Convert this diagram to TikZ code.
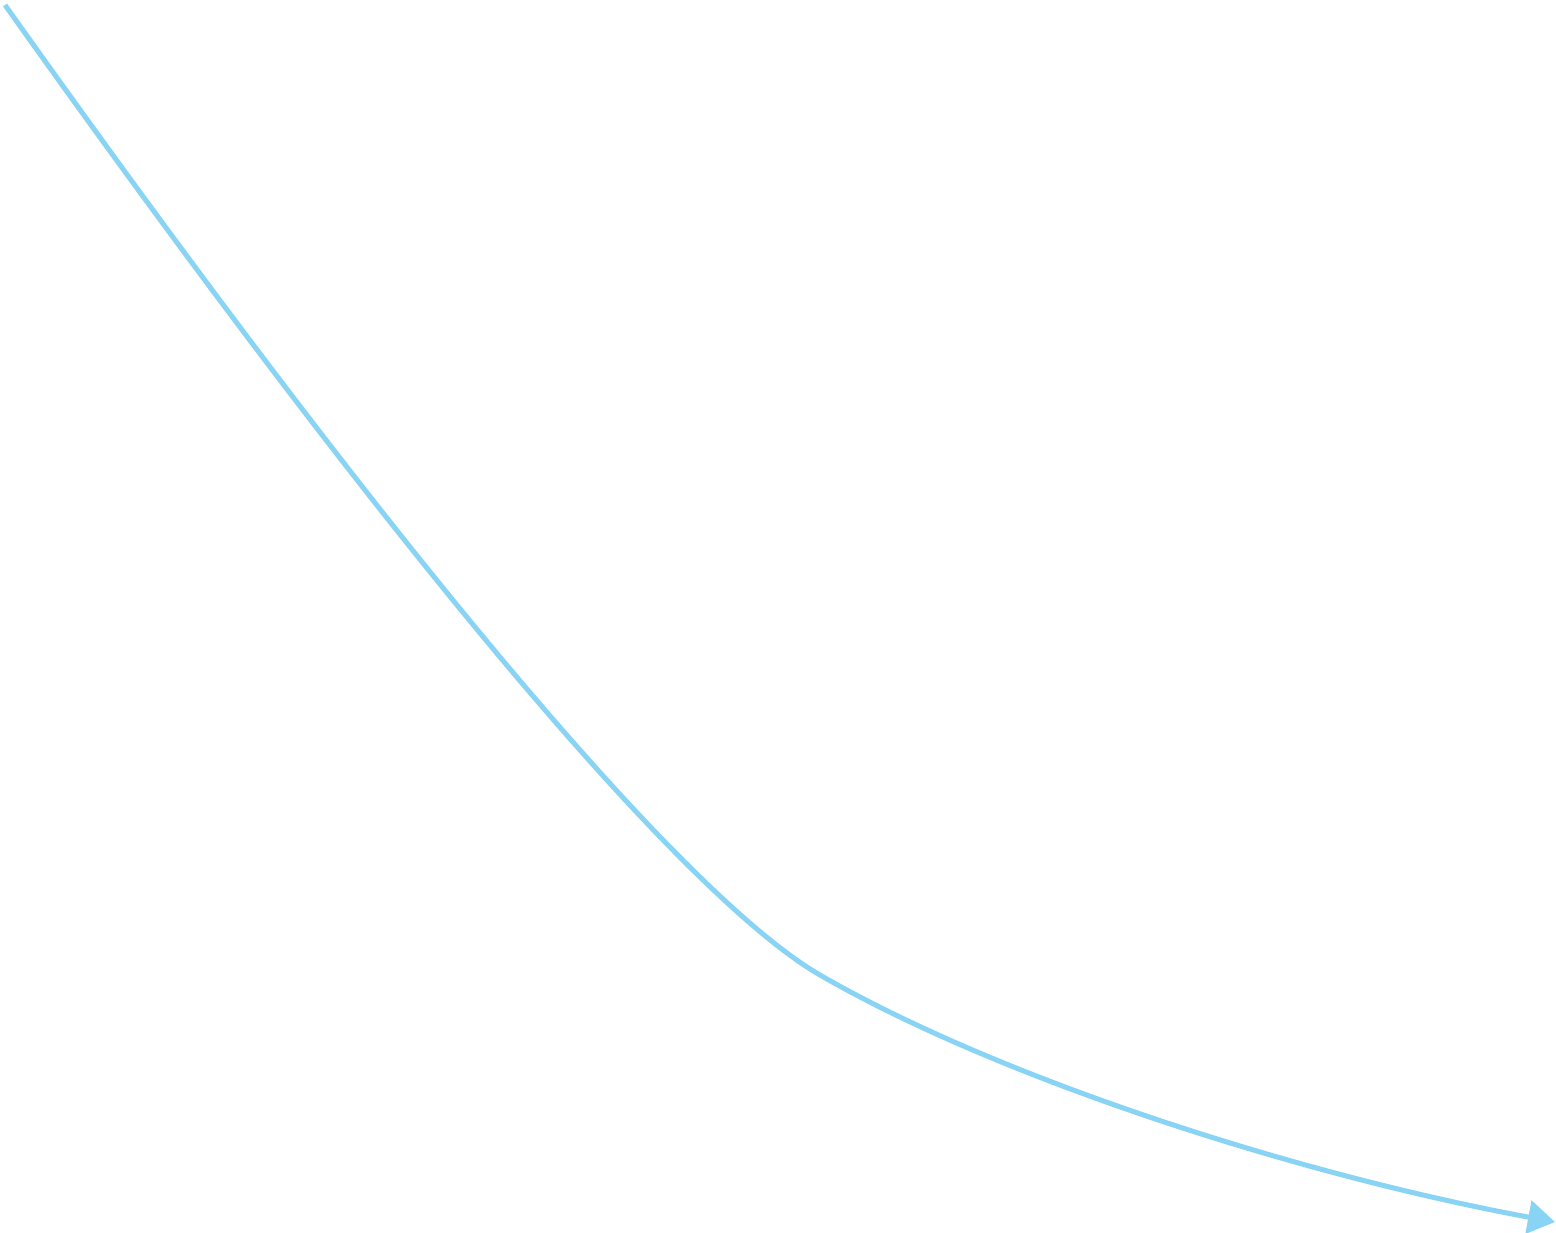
\documentclass[tikz,border=0pt]{standalone}
\usepackage{xcolor}
\usepackage{tikz}
\usetikzlibrary{arrows.meta}

\definecolor{skyline}{RGB}{137,212,244}

\begin{document}
\begin{tikzpicture}[
            x=0.01cm,
            y=-0.01cm,
            flow/.style={
                    draw=skyline,
                    line width=0.05cm,
                    -{Triangle[length=0.27cm,width=0.33cm]}
                }
        ]


        \useasboundingbox (0,0) rectangle (1556,1233);


        \coordinate (start) at (5,5);
        \coordinate (bend) at (820,975);
        \coordinate (finish) at (1555,1222);


        \draw[flow] (start)
        .. controls (410,575) and (690,900) .. (bend)
        .. controls (1000,1079) and (1300,1175) .. (finish);


    \end{tikzpicture}
\end{document}
